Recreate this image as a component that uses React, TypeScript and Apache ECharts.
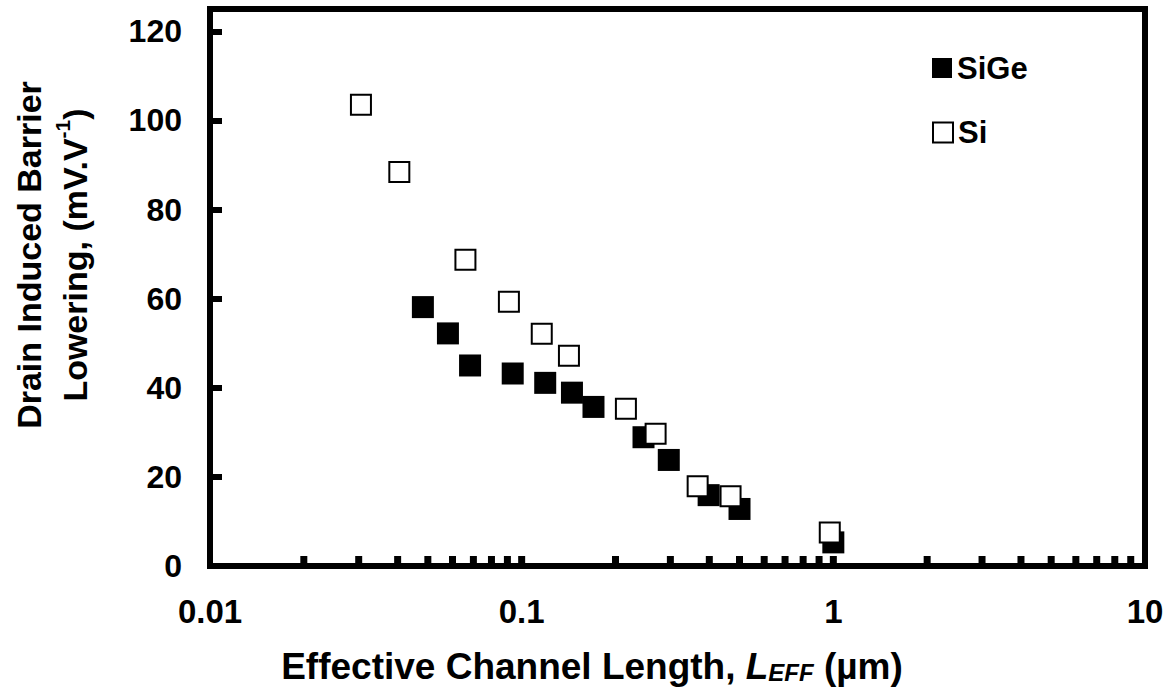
import React, { useEffect, useRef } from "react";
import * as echarts from "echarts";

const sigeX = [0.0482, 0.058, 0.0683, 0.0936, 0.119, 0.145, 0.17, 0.246, 0.2965, 0.398, 0.5, 1.0];
const sigeY = [58.1, 52.2, 45.0, 43.2, 41.1, 38.9, 35.7, 28.9, 23.8, 15.9, 12.8, 5.3];
const siX = [0.0305, 0.0405, 0.066, 0.091, 0.116, 0.1418, 0.216, 0.269, 0.367, 0.468, 0.974];
const siY = [103.5, 88.4, 68.7, 59.3, 52.1, 47.2, 35.3, 29.7, 17.9, 15.65, 7.5];
const minorTicks = [
  0.02, 0.03, 0.04, 0.05, 0.06, 0.07, 0.08, 0.09, 0.1,
  0.2, 0.3, 0.4, 0.5, 0.6, 0.7, 0.8, 0.9, 1,
  2, 3, 4, 5, 6, 7, 8, 9,
];
const yTicks = [0, 20, 40, 60, 80, 100, 120];

const FONT = "'Liberation Sans', Arial, sans-serif";

export default function App() {
  const ref = useRef<HTMLDivElement>(null);
  useEffect(() => {
    if (!ref.current) return;
    const chart = echarts.init(ref.current, undefined, { renderer: "svg" });
    const legendText = { fontFamily: FONT, fontWeight: "bold", fontSize: 31, color: "#000" };
    const option: any = {
      animation: false,
      backgroundColor: "#fff",
      grid: {
        left: 210,
        right: 31,
        top: 9,
        bottom: 133,
        show: true,
        borderColor: "#000",
        borderWidth: 6,
        backgroundColor: "transparent",
      },
      legend: [
        {
          data: ["SiGe"],
          left: 932,
          top: 52.5,
          padding: 0,
          itemWidth: 20,
          itemHeight: 20,
          textStyle: legendText,
        },
        {
          data: ["Si"],
          left: 932,
          top: 117,
          padding: 0,
          itemWidth: 20,
          itemHeight: 20,
          textStyle: legendText,
        },
      ],
      xAxis: {
        type: "log",
        logBase: 10,
        min: 0.01,
        max: 10,
        axisLine: { show: false },
        axisTick: { show: false },
        splitLine: { show: false },
        axisLabel: {
          margin: 29,
          fontFamily: FONT,
          fontWeight: "bold",
          fontSize: 33,
          color: "#000",
          formatter: (v: number) => String(Number(v.toPrecision(3))),
        },
      },
      yAxis: {
        type: "value",
        min: 0,
        max: 125,
        interval: 20,
        axisLine: { show: false },
        splitLine: { show: false },
        axisTick: { show: true, inside: true, length: 12, lineStyle: { color: "#000", width: 6 } },
        axisLabel: {
          margin: 28,
          fontFamily: FONT,
          fontWeight: "bold",
          fontSize: 32,
          color: "#000",
          formatter: (v: number) => (yTicks.includes(v) ? String(v) : ""),
        },
      },
      graphic: [
        {
          type: "text",
          x: 52,
          y: 255,
          rotation: Math.PI / 2,
          style: {
            text: "Drain Induced Barrier\nLowering, (mV.V{sup|-1})",
            fontFamily: FONT,
            fontWeight: "bold",
            fontSize: 34,
            lineHeight: 46,
            fill: "#000",
            align: "center",
            verticalAlign: "middle",
            rich: {
              sup: { fontFamily: FONT, fontWeight: "bold", fontSize: 21, verticalAlign: "top", lineHeight: 22, fill: "#000" },
            },
          },
        },
        {
          type: "text",
          x: 592,
          y: 666,
          style: {
            text: "Effective Channel Length, {i|L}{sub|EFF} (µm)",
            fontFamily: FONT,
            fontWeight: "bold",
            fontSize: 37,
            fill: "#000",
            align: "center",
            verticalAlign: "middle",
            rich: {
              i: { fontFamily: FONT, fontWeight: "bold", fontStyle: "italic", fontSize: 37, fill: "#000" },
              sub: { fontFamily: FONT, fontWeight: "bold", fontStyle: "italic", fontSize: 24, verticalAlign: "bottom", lineHeight: 25, fill: "#000" },
            },
          },
        },
      ],
      series: [
        {
          type: "custom",
          name: "ticks",
          coordinateSystem: "cartesian2d",
          silent: true,
          data: minorTicks.map((v) => [v, 0]),
          renderItem: (params: any, api: any) => {
            const p = api.coord([api.value(0), 0]);
            return {
              type: "rect",
              shape: { x: p[0] - 3.5, y: p[1] - 10, width: 7, height: 10 },
              style: { fill: "#000" },
            };
          },
          z: 1,
        },
        {
          name: "SiGe",
          type: "scatter",
          symbol: "rect",
          symbolSize: 22,
          itemStyle: { color: "#000", opacity: 1 },
          data: sigeX.map((x, i) => [x, sigeY[i]]),
          z: 2,
        },
        {
          name: "Si",
          type: "scatter",
          symbol: "rect",
          symbolSize: 20,
          itemStyle: { color: "#fff", borderColor: "#000", borderWidth: 2, opacity: 1 },
          data: siX.map((x, i) => [x, siY[i]]),
          z: 3,
        },
      ],
    };
    chart.setOption(option);
    return () => chart.dispose();
  }, []);
  return <div ref={ref} style={{ position: "fixed", left: 0, top: 0, width: 1176, height: 699 }} />;
}
